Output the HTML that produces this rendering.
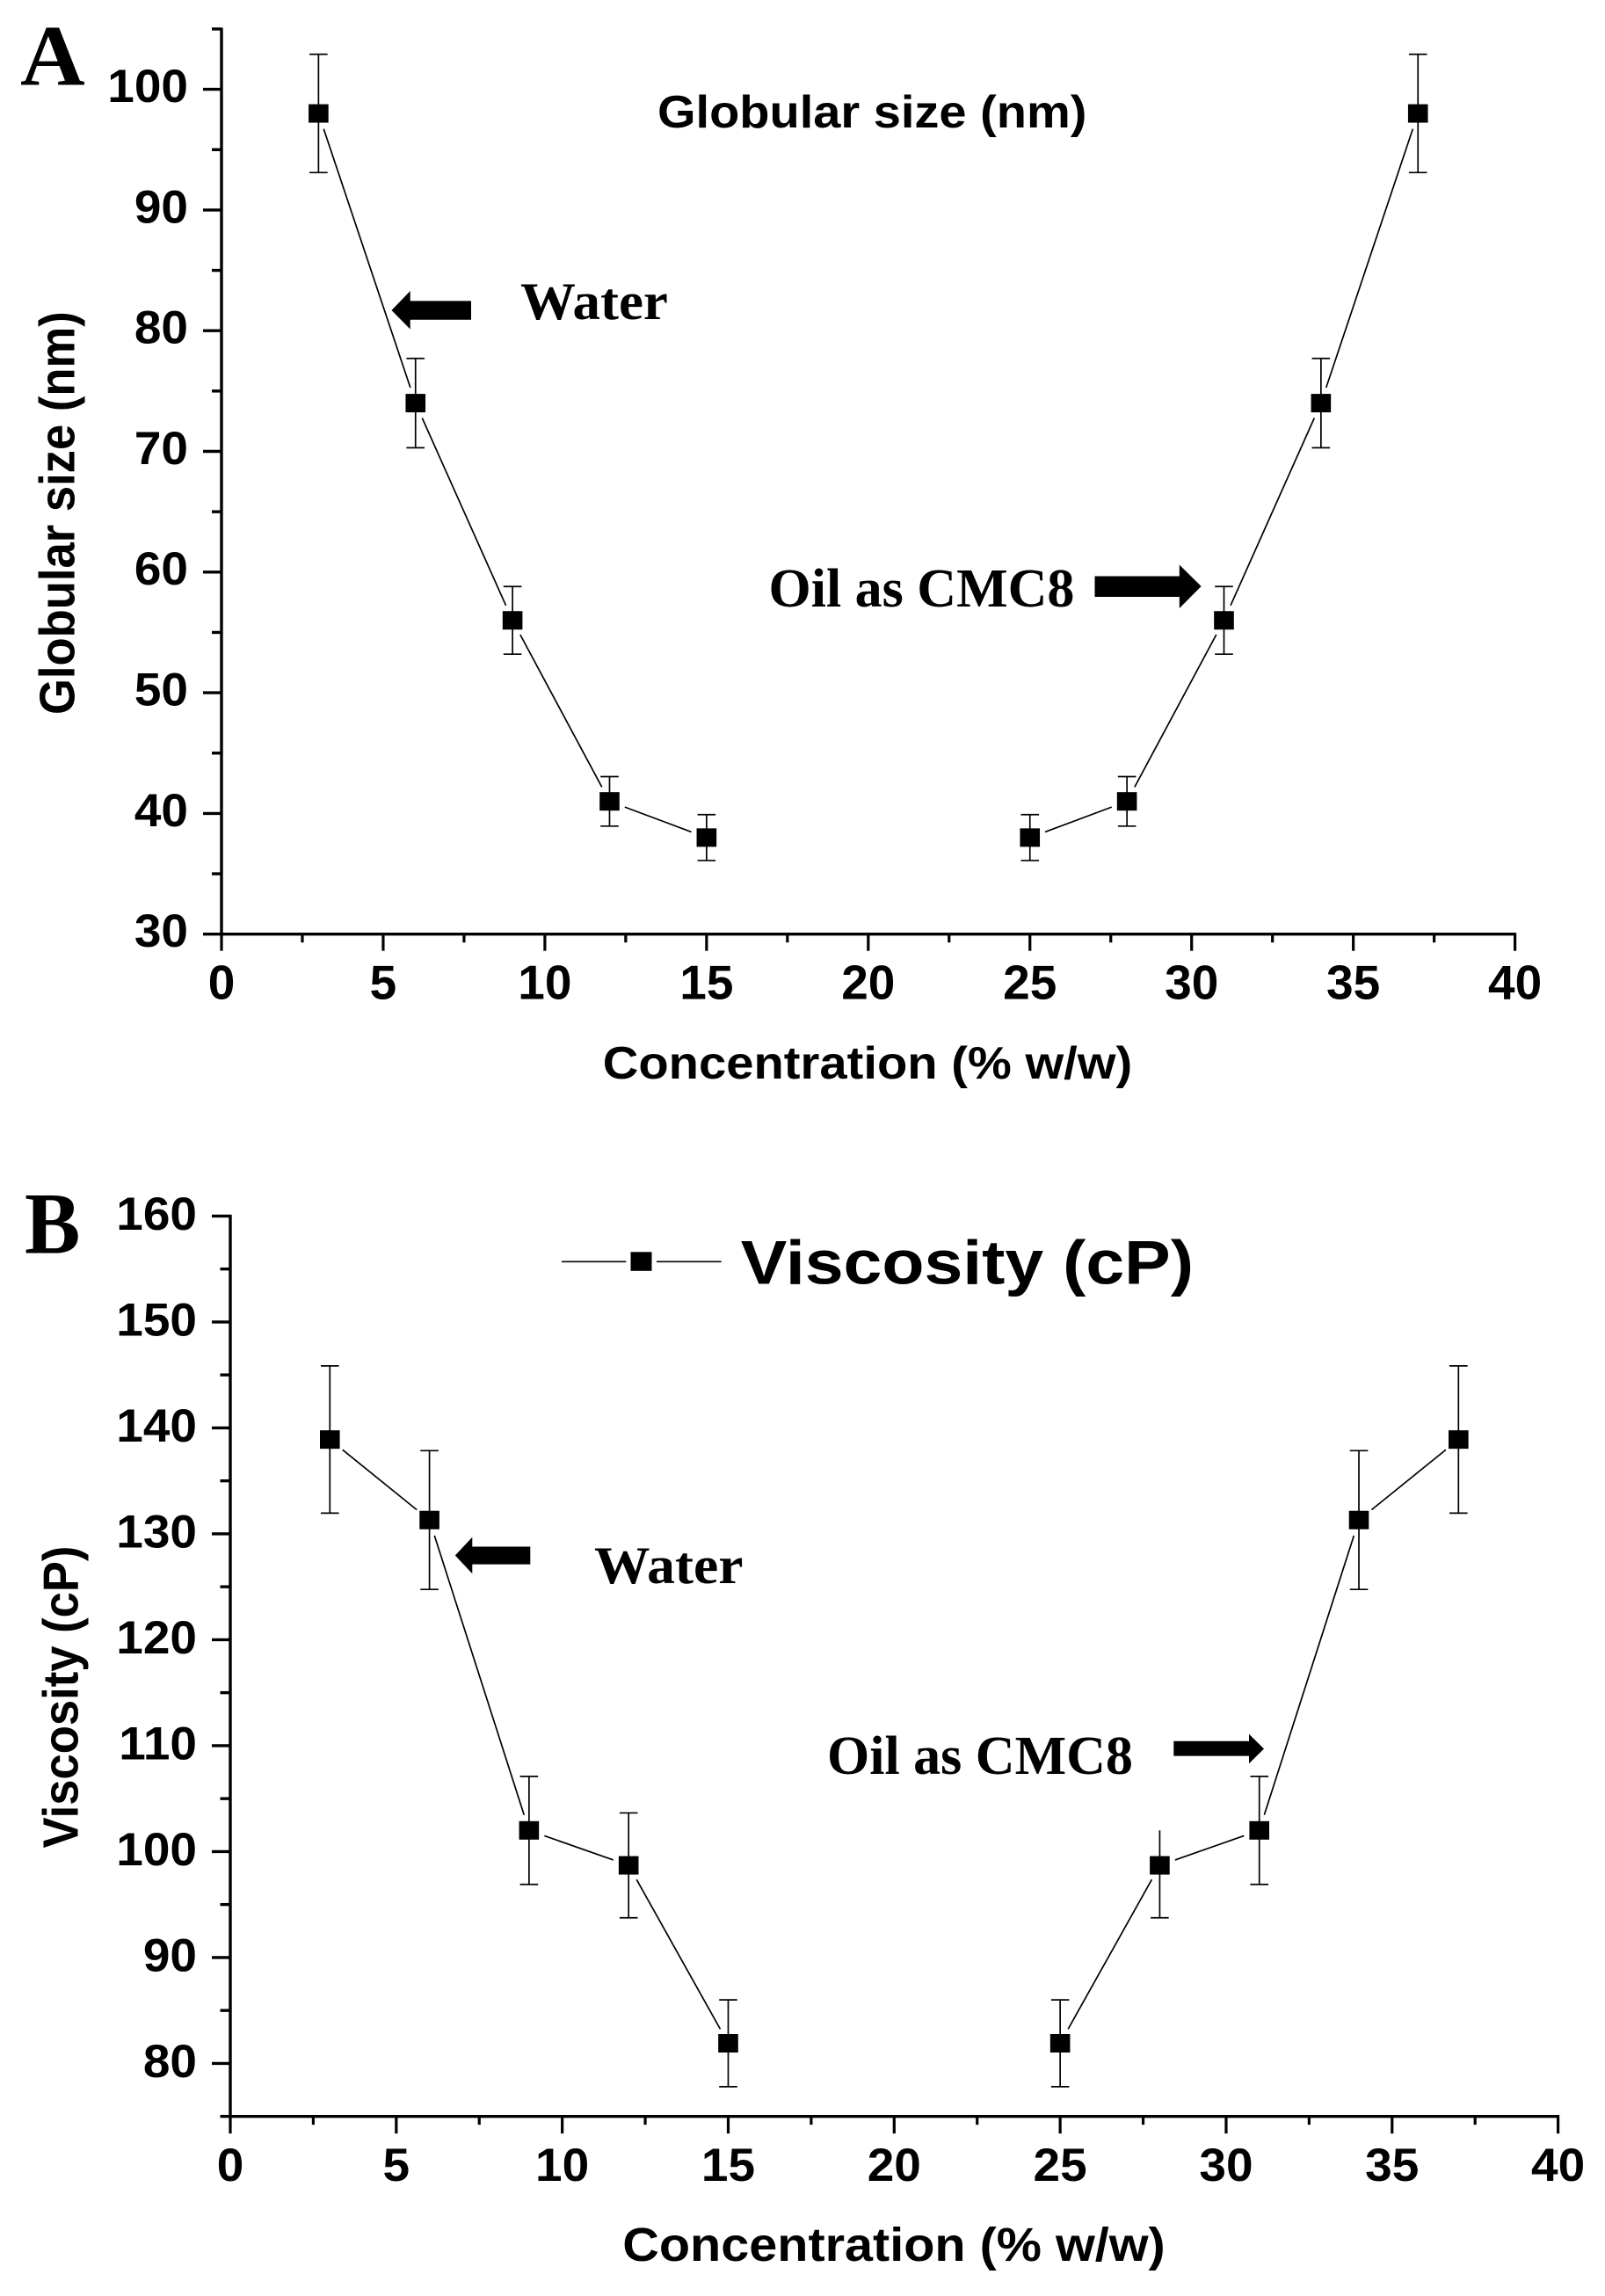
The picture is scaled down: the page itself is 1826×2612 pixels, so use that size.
<!DOCTYPE html>
<html lang="en">
<head>
<meta charset="utf-8">
<title>Globular size and viscosity versus concentration</title>
<style>
html,body{margin:0;padding:0;background:#fff;}
svg{display:block;}
.sans{font-family:"Liberation Sans",Arial,sans-serif;font-weight:700;fill:#000;}
.serif{font-family:"Liberation Serif","Times New Roman",serif;font-weight:700;fill:#000;}
</style>
</head>
<body>
<svg id="figure" xmlns="http://www.w3.org/2000/svg" width="1826" height="2612" viewBox="0 0 1826 2612">
  <rect x="0" y="0" width="1826" height="2612" fill="#fff"/>

  <g id="panel-a"></g>
  <g id="panel-b"></g>

  <!-- Panel A text -->
  <text class="serif" font-size="100" transform="translate(23,96.5) scale(1.02,0.98)">A</text>
  <text class="sans" font-size="56" transform="translate(748,145) scale(1,0.93)">Globular size (nm)</text>
  <text class="sans" font-size="52.6" transform="translate(84.5,813) rotate(-90) scale(1,1.08)">Globular size (nm)</text>
  <text class="sans" font-size="56.2" text-anchor="middle" transform="translate(987,1227) scale(1,0.92)">Concentration (% w/w)</text>
  <text class="serif" font-size="60" transform="translate(592,363) scale(1.05,1)">Water</text>
  <text class="serif" font-size="62" x="874.5" y="690">Oil as CMC8</text>
  <polygon fill="#000" points="445.5,353 466.7,331 466.7,342.4 536,342.4 536,363.8 466.7,363.8 466.7,374.5"/>
  <polygon fill="#000" points="1366.6,667 1341.8,642.5 1341.8,655.5 1245.5,655.5 1245.5,679 1341.8,679 1341.8,692"/>

  <!-- Panel B text -->
  <text class="serif" font-size="100" transform="translate(28,1425.5) scale(0.95,1)">B</text>
  <text class="sans" font-size="52.6" transform="translate(88.5,2102.5) rotate(-90) scale(1,1.08)">Viscosity (cP)</text>
  <text class="sans" font-size="57.6" text-anchor="middle" transform="translate(1017,2572) scale(1,0.93)">Concentration (% w/w)</text>
  <text class="serif" font-size="60" transform="translate(676,1801) scale(1.06,1)">Water</text>
  <text class="serif" font-size="62" x="941" y="2018">Oil as CMC8</text>
  <polygon fill="#000" points="517.8,1769.5 537.3,1748.8 537.3,1759.5 603.3,1759.5 603.3,1779.6 537.3,1779.6 537.3,1790.3"/>
  <polygon fill="#000" points="1438,1989.5 1421,1972.7 1421,1980.8 1335.3,1980.8 1335.3,1997.6 1421,1997.6 1421,2006.3"/>

  <!-- Panel B legend -->
  <g>
    <line x1="639" y1="1435.3" x2="712.3" y2="1435.3" stroke="#000" stroke-width="1.7"/>
    <rect x="717.5" y="1424.3" width="24" height="21.5" fill="#000"/>
    <line x1="747" y1="1435.3" x2="820.7" y2="1435.3" stroke="#000" stroke-width="1.7"/>
    <text class="sans" font-size="78.8" transform="translate(842.7,1460.5) scale(1,0.89)">Viscosity (cP)</text>
  </g>
</svg>
<script>
// Shared axis data
const concentration = [3, 6, 9, 12, 15, 25, 28, 31, 34, 37];
const lineBreakAfter = 15;
const xTickLabels = [0, 5, 10, 15, 20, 25, 30, 35, 40];
const xMinorTicks = [2.5, 7.5, 12.5, 17.5, 22.5, 27.5, 32.5, 37.5];

// Panel A: globular size (nm)
const sizeValues = [98, 74, 56, 41, 38, 38, 41, 56, 74, 98];
const sizeErrUpper = [4.9, 3.7, 2.8, 2.05, 1.9, 1.9, 2.05, 2.8, 3.7, 4.9];
const sizeErrLower = [4.9, 3.7, 2.8, 2.05, 1.9, 1.9, 2.05, 2.8, 3.7, 4.9];
const sizeTickLabels = [30, 40, 50, 60, 70, 80, 90, 100];
const sizeMinorTicks = [35, 45, 55, 65, 75, 85, 95, 105];
const sizeUncappedUpper = [];

// Panel B: viscosity (cP)
const viscosityValues = [138.9, 131.3, 102, 98.7, 81.9, 81.9, 98.7, 102, 131.3, 138.9];
const viscosityErrUpper = [6.95, 6.55, 5.1, 4.95, 4.1, 4.1, 3.3, 5.1, 6.55, 6.95];
const viscosityErrLower = [6.95, 6.55, 5.1, 4.95, 4.1, 4.1, 4.95, 5.1, 6.55, 6.95];
const viscosityTickLabels = [80, 90, 100, 110, 120, 130, 140, 150, 160];
const viscosityMinorTicks = [75, 85, 95, 105, 115, 125, 135, 145, 155];
const viscosityUncappedUpper = [28];

const SVG_NS = 'http://www.w3.org/2000/svg';

function linearScale(d0, d1, r0, r1) {
  return function (v) { return r0 + (v - d0) * (r1 - r0) / (d1 - d0); };
}

function makeLine(x1, y1, x2, y2, width) {
  const el = document.createElementNS(SVG_NS, 'line');
  el.setAttribute('x1', x1);
  el.setAttribute('y1', y1);
  el.setAttribute('x2', x2);
  el.setAttribute('y2', y2);
  el.setAttribute('stroke', '#000');
  el.setAttribute('stroke-width', width);
  return el;
}

function drawPanel(root, prefix, o) {
  const x = o.x;
  const y = o.y;
  const x0 = x(0);
  const yBase = y(o.yMin);
  const yTop = y(o.yMax);

  // Axis lines
  const xAxis = makeLine(x0 - 1.5, yBase, x(40) + 1.5, yBase, 3.4);
  
  
  root.appendChild(xAxis);

  const yAxis = makeLine(x0, yTop - 1.5, x0, yBase + 1.5, 3.4);
  
  
  root.appendChild(yAxis);

  // X ticks
  xTickLabels.forEach(function (t) {
    const tick = makeLine(x(t), yBase, x(t), yBase + o.xMajor, 3.2);
    
    
    root.appendChild(tick);

    const label = document.createElementNS(SVG_NS, 'text');
    label.setAttribute('class', 'sans');
    label.setAttribute('font-size', '55');
    label.setAttribute('text-anchor', 'middle');
    label.setAttribute('transform', 'translate(' + x(t) + ',' + o.xLabelY + ') scale(1,' + o.xLabelScale + ')');
    label.textContent = t;
    
    
    root.appendChild(label);
  });
  xMinorTicks.forEach(function (t) {
    const tick = makeLine(x(t), yBase, x(t), yBase + o.xMinor, 3.2);
    
    
    root.appendChild(tick);
  });

  // Y ticks
  o.yTicks.forEach(function (t) {
    const tick = makeLine(x0, y(t), x0 - o.yMajor, y(t), 3.4);
    
    
    root.appendChild(tick);

    const label = document.createElementNS(SVG_NS, 'text');
    label.setAttribute('class', 'sans');
    label.setAttribute('font-size', '55');
    label.setAttribute('text-anchor', 'end');
    label.setAttribute('transform', 'translate(' + (x0 - 38) + ',' + (y(t) + o.yLabelDy) + ') scale(1,0.96)');
    label.textContent = t;
    
    
    root.appendChild(label);
  });
  o.yMinors.forEach(function (t) {
    const tick = makeLine(x0, y(t), x0 - o.yMinorLen, y(t), 3.4);
    
    
    root.appendChild(tick);
  });

  // Connecting line with a gap around each marker
  const gap = 18.5;
  for (let i = 0; i + 1 < concentration.length; i++) {
    if (concentration[i] === lineBreakAfter) continue;
    const ax = x(concentration[i]);
    const ay = y(o.values[i]);
    const bx = x(concentration[i + 1]);
    const by = y(o.values[i + 1]);
    const len = Math.hypot(bx - ax, by - ay);
    const ux = (bx - ax) / len;
    const uy = (by - ay) / len;
    const seg = makeLine(ax + ux * gap, ay + uy * gap, bx - ux * gap, by - uy * gap, 1.7);
    
    
    root.appendChild(seg);
  }

  // Error bars and markers
  concentration.forEach(function (c, i) {
    const cx = x(c);
    const cy = y(o.values[i]);
    const top = y(o.values[i] + o.errUp[i]);
    const bottom = y(o.values[i] - o.errDown[i]);

    const stem = makeLine(cx, top, cx, bottom, 1.7);
    
    
    root.appendChild(stem);

    if (o.uncapped.indexOf(c) === -1) {
      const capTop = makeLine(cx - 10.3, top, cx + 10.3, top, 1.7);
      
      
      root.appendChild(capTop);
    }

    const capBottom = makeLine(cx - 10.3, bottom, cx + 10.3, bottom, 1.7);
    
    
    root.appendChild(capBottom);

    const marker = document.createElementNS(SVG_NS, 'rect');
    marker.setAttribute('x', cx - 11.3);
    marker.setAttribute('y', cy - 10.5);
    marker.setAttribute('width', 22.6);
    marker.setAttribute('height', 21);
    marker.setAttribute('fill', '#000');
    
    
    root.appendChild(marker);
  });
}

drawPanel(document.getElementById('panel-a'), 'panel-a', {
  x: linearScale(0, 40, 252, 1723.6),
  y: linearScale(30, 100, 1062.7, 101.6),
  yMin: 30,
  yMax: 105,
  xMajor: 19,
  xMinor: 9.5,
  yMajor: 21,
  yMinorLen: 11,
  xLabelY: 1136.5,
  xLabelScale: 0.99,
  yLabelDy: 14.4,
  yTicks: sizeTickLabels,
  yMinors: sizeMinorTicks,
  values: sizeValues,
  errUp: sizeErrUpper,
  errDown: sizeErrLower,
  uncapped: sizeUncappedUpper
});

drawPanel(document.getElementById('panel-b'), 'panel-b', {
  x: linearScale(0, 40, 262, 1772.6),
  y: linearScale(80, 160, 2347.4, 1383.4),
  yMin: 75,
  yMax: 160,
  xMajor: 19.5,
  xMinor: 9.5,
  yMajor: 21,
  yMinorLen: 11.5,
  xLabelY: 2481,
  xLabelScale: 0.96,
  yLabelDy: 15.5,
  yTicks: viscosityTickLabels,
  yMinors: viscosityMinorTicks,
  values: viscosityValues,
  errUp: viscosityErrUpper,
  errDown: viscosityErrLower,
  uncapped: viscosityUncappedUpper
});
</script>
</body>
</html>
